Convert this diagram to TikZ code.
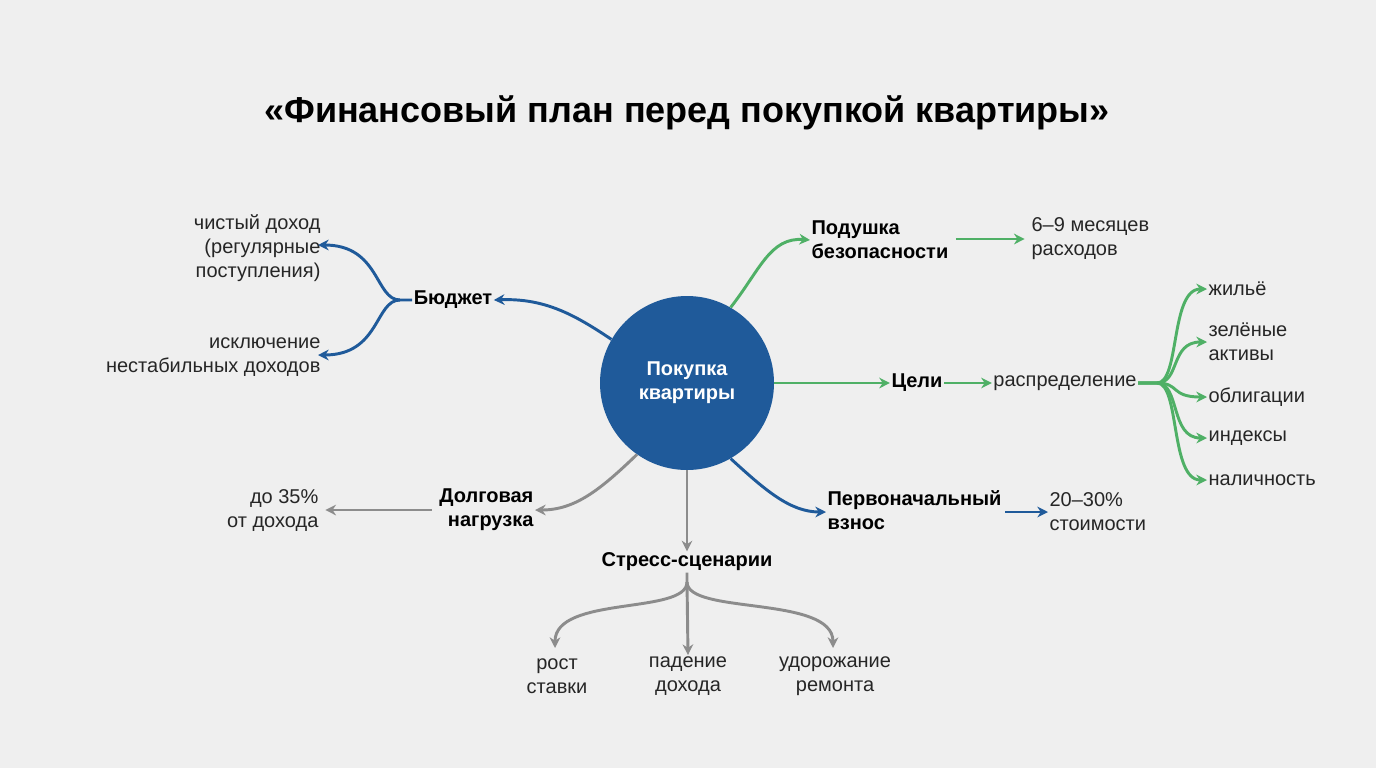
\documentclass[tikz,border=0pt]{standalone}
\usepackage{fontspec}
\setmainfont{Liberation Sans}
\usetikzlibrary{arrows.meta}
\definecolor{cblue}{HTML}{1F5A9A}
\definecolor{cgreen}{HTML}{4FB066}
\definecolor{cgray}{HTML}{8C8C8C}
\definecolor{bg}{HTML}{EFEFEF}
\begin{document}
\begin{tikzpicture}[x=0.75pt,y=-0.75pt,
  lbl/.style={font=\fontsize{15}{18}\selectfont, text=black!85, inner sep=1pt},
  bld/.style={font=\fontsize{15}{18}\selectfont\bfseries, inner sep=1pt},
  ar/.style={line width=2.2pt,-{Stealth[length=8pt,width=8pt]}},
  arb/.style={ar,draw=cblue}, arg/.style={ar,draw=cgreen}, arr/.style={ar,draw=cgray}]
\fill[bg] (0,0) rectangle (1376,768);
\useasboundingbox (0,0) rectangle (1376,768);
\node[font=\fontsize{27}{32}\selectfont\bfseries] (title) at (687,113) {«Финансовый план перед покупкой квартиры»};
\node[circle,fill=cblue,minimum size=174pt*0.75,text=white,font=\fontsize{15}{18}\selectfont\bfseries,align=center] (c) at (687,383) {Покупка\\квартиры};

% Budget
\node[bld] (bud) at (453,300) {Бюджет};
\node[lbl,align=right,anchor=east] (b1) at (322,248) {чистый доход\\(регулярные\\поступления)};
\node[lbl,align=right,anchor=east] (b2) at (322,357) {исключение\\нестабильных доходов};
\coordinate (bf) at (400,300);
\draw[arb] (c.150) .. controls (575,315) and (545,298) .. (bud.east);
\draw[arb] (bud.west) -- (bf) .. controls (375,300) and (380,245) .. ([xshift=-3pt]b1.east |- 0,245);
\draw[arb] (bf) .. controls (375,300) and (380,355) .. ([xshift=-3pt]b2.east |- 0,355);

% Safety
\node[bld,align=left,anchor=west] (saf) at (810,240) {Подушка\\безопасности};
\node[lbl,align=left,anchor=west] (s1) at (1030,239) {6–9 месяцев\\расходов};
\draw[arg] (c.60) .. controls (760,270) and (770,237) .. (saf.west);
\draw[arg] (saf.east |- 0,239) ++(6,0) -- ([xshift=-4pt]s1.west);

% Goals
\node[bld] (goal) at (917,383) {Цели};
\node[lbl] (dist) at (1065,383) {распределение};
\draw[arg] (c.east) -- (goal.west);
\draw[arg] (goal.east) -- (dist.west);
\coordinate (gf) at (1157,383);
\foreach \n/\t/\y in {g1/жильё/289,g2/{зелёные\\активы}/342,g3/облигации/397,g4/индексы/438,g5/наличность/480}{
  \node[lbl,align=left,anchor=west] (\n) at (1207,\y) {\t};
  \draw[arg] (dist.east) -- (gf) .. controls (1180,383) and (1170,\y) .. (\n.west);
}

% Down payment
\node[bld,align=left,anchor=west] (dp) at (826,510) {Первоначальный\\взнос};
\node[lbl,align=left,anchor=west] (d1) at (1048,512) {20–30\%\\стоимости};
\draw[arb] (c.-60) .. controls (765,490) and (790,512) .. (dp.west |- 0,512);
\draw[arb] (dp.east |- 0,512) ++(2,0) -- (d1.west);

% Debt
\node[bld,align=right,anchor=east] (debt) at (535,510) {Долговая\\нагрузка};
\node[lbl,align=right,anchor=east] (de1) at (320,510) {до 35\%\\от дохода};
\draw[arr] (c.-125) .. controls (600,490) and (575,510) .. (debt.east);
\draw[arr] (debt.west) ++(-6,0) -- ([xshift=4pt]de1.east);

% Stress
\node[bld] (st) at (687,562) {Стресс-сценарии};
\draw[arr] (c.south) -- (st.north);
\coordinate (sf) at (687,582);
\node[lbl,align=center] (s1) at (557,676) {рост\\ставки};
\node[lbl,align=center] (s2) at (688,676) {падение\\дохода};
\node[lbl,align=center] (s3) at (835,676) {удорожание\\ремонта};
\draw[arr] (st.south) -- (sf) -- (s2.north);
\draw[arr] (sf) .. controls (687,615) and (555,595) .. (555,648);
\draw[arr] (sf) .. controls (687,615) and (833,595) .. (833,648);
\end{tikzpicture}
\end{document}
